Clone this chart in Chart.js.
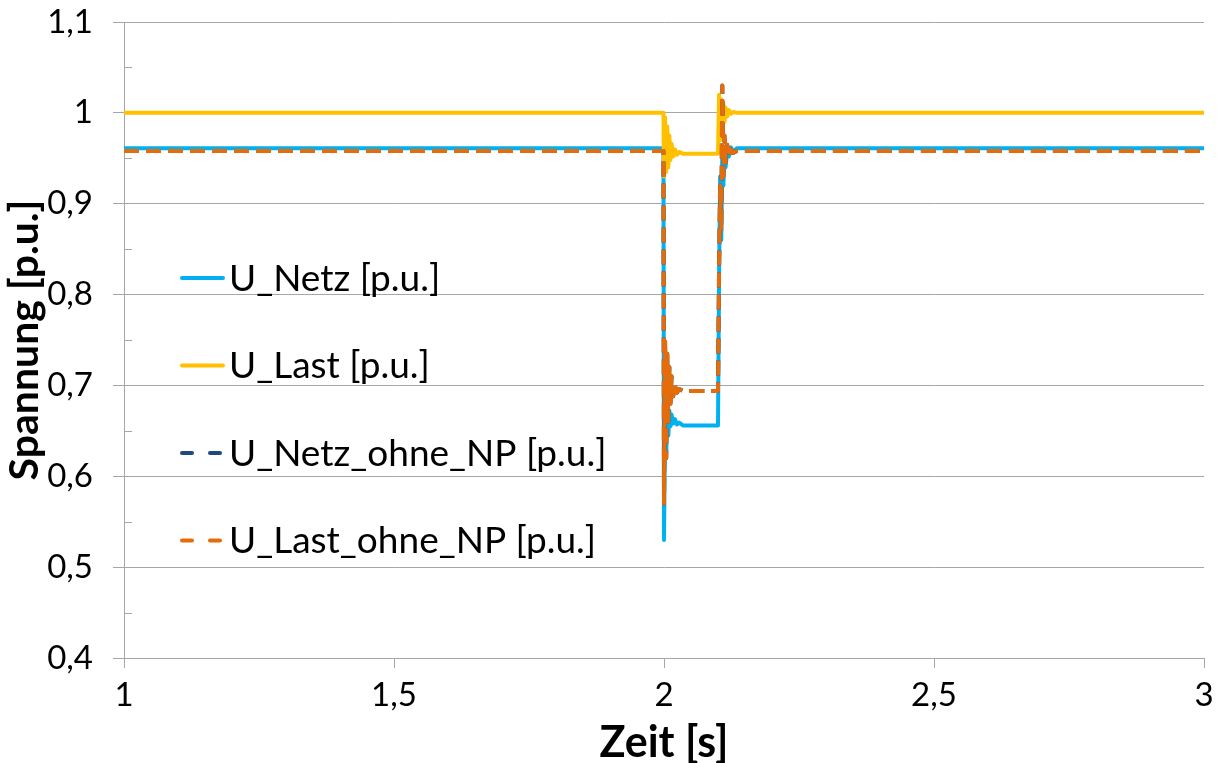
<!DOCTYPE html>
<html>
<head>
<meta charset="utf-8">
<script src="https://cdn.jsdelivr.net/npm/chart.js@4.4.1/dist/chart.umd.min.js"></script>
<style>
  html, body { margin: 0; padding: 0; background: #fff; }
  #wrap { width: 1218px; height: 763px; position: relative; }
</style>
</head>
<body>
<div id="wrap"><canvas id="spannungChart"></canvas></div>
<script>
// Zeitachse [s]
const zeit = [1.0, 1.999, 2.0, 2.002, 2.004, 2.006, 2.008, 2.010, 2.012, 2.014, 2.017, 2.020, 2.024, 2.028, 2.035, 2.045,
              2.060, 2.099, 2.100, 2.102, 2.104, 2.106, 2.108, 2.110, 2.112, 2.114, 2.117, 2.120, 2.124, 2.128, 2.135,
              2.150, 2.200, 3.0];

const uNetz = [0.961, 0.961, 0.530, 0.660, 0.620, 0.675, 0.645, 0.672, 0.655, 0.668, 0.658, 0.663, 0.657, 0.659, 0.656, 0.656,
               0.656, 0.656, 0.656, 0.820, 0.930, 0.860, 0.955, 0.920, 0.960, 0.940, 0.958, 0.952, 0.962, 0.957, 0.961,
               0.961, 0.961, 0.961];

const uLast = [1.000, 1.000, 0.930, 0.995, 0.935, 0.985, 0.940, 0.975, 0.948, 0.966, 0.952, 0.960, 0.954, 0.957, 0.955, 0.955,
               0.955, 0.955, 0.955, 1.020, 0.970, 1.015, 0.980, 1.010, 0.990, 1.006, 0.996, 1.003, 0.999, 1.001, 1.000,
               1.000, 1.000, 1.000];

const uNetzOhneNP = [0.958, 0.958, 0.570, 0.750, 0.620, 0.735, 0.660, 0.720, 0.680, 0.710, 0.688, 0.700, 0.692, 0.696, 0.694, 0.694,
                     0.694, 0.694, 0.694, 0.830, 0.920, 0.870, 1.030, 0.930, 0.975, 0.945, 0.965, 0.952, 0.960, 0.956, 0.958,
                     0.958, 0.958, 0.958];

const uLastOhneNP = [0.958, 0.958, 0.570, 0.750, 0.620, 0.735, 0.660, 0.720, 0.680, 0.710, 0.688, 0.700, 0.692, 0.696, 0.694, 0.694,
                     0.694, 0.694, 0.694, 0.830, 0.920, 0.870, 1.030, 0.930, 0.975, 0.945, 0.965, 0.952, 0.960, 0.956, 0.958,
                     0.958, 0.958, 0.958];

const serienNamen = ['U_Netz [p.u.]', 'U_Last [p.u.]', 'U_Netz_ohne_NP [p.u.]', 'U_Last_ohne_NP [p.u.]'];
const yTicks = [0.4, 0.5, 0.6, 0.7, 0.8, 0.9, 1.0, 1.1];
const xTicks = [1, 1.5, 2, 2.5, 3];

const FONT = 'Lato';
const GRID = '#A6A6A6';

function punkte(werte) {
  return zeit.map((t, i) => ({ x: t, y: werte[i] }));
}
function komma(v) {
  return String(Math.round(v * 10) / 10).replace('.', ',');
}

// legend inside the plot area, one entry per row
const legendeImPlot = {
  id: 'legendeImPlot',
  afterDatasetsDraw(chart) {
    const { ctx, chartArea } = chart;
    ctx.save();
    ctx.font = '37px ' + FONT;
    ctx.textBaseline = 'middle';
    ctx.fillStyle = '#000';
    chart.data.datasets.forEach((ds, i) => {
      const y = chartArea.top + 256 + i * 87.5;
      const x0 = chartArea.left + 58;
      ctx.beginPath();
      ctx.lineWidth = 4;
      ctx.strokeStyle = ds.borderColor;
      ctx.lineCap = 'round';
      ctx.setLineDash(ds.borderDash && ds.borderDash.length ? [10, 18] : []);
      ctx.moveTo(x0, y);
      ctx.lineTo(x0 + 41, y);
      ctx.stroke();
      ctx.setLineDash([]);
      ctx.fillText(ds.label, x0 + 47, y + 1);
    });
    ctx.restore();
  }
};

// small inner minor ticks on the y axis
const minorTicks = {
  id: 'minorTicks',
  afterDraw(chart) {
    const { ctx } = chart;
    const ys = chart.scales.y;
    ctx.save();
    ctx.strokeStyle = GRID;
    ctx.lineWidth = 1;
    for (let i = 0; i < yTicks.length - 1; i++) {
      const py = Math.round(ys.getPixelForValue((yTicks[i] + yTicks[i + 1]) / 2)) + 0.5;
      ctx.beginPath();
      ctx.moveTo(ys.right, py);
      ctx.lineTo(ys.right + 8, py);
      ctx.stroke();
    }
    ctx.restore();
  }
};

const ctx = document.getElementById('spannungChart').getContext('2d');

const config = {
  type: 'line',
  data: {
    datasets: [
      { label: serienNamen[0], data: punkte(uNetz), borderColor: '#00B0F0', order: 4 },
      { label: serienNamen[1], data: punkte(uLast), borderColor: '#FFC000', order: 3 },
      { label: serienNamen[2], data: punkte(uNetzOhneNP), borderColor: '#1F497D', borderDash: [15, 7], order: 2 },
      { label: serienNamen[3], data: punkte(uLastOhneNP), borderColor: '#E46C0A', borderDash: [15, 7], order: 1 }
    ]
  },
  options: {
    responsive: true,
    maintainAspectRatio: false,
    animation: false,
    layout: { padding: { top: 22, right: 14, left: 0, bottom: 0 } },
    elements: {
      point: { radius: 0 },
      line: { borderWidth: 4, tension: 0, fill: false, borderJoinStyle: 'round' }
    },
    plugins: {
      legend: { display: false },
      tooltip: { enabled: false }
    },
    scales: {
      x: {
        type: 'linear',
        min: 1, max: 3,
        afterBuildTicks: s => { s.ticks = xTicks.map(v => ({ value: v })); },
        afterFit: s => { s.height = 105; s.paddingLeft = 0; s.paddingRight = 0; },
        grid: { drawOnChartArea: false, drawTicks: true, tickLength: 10, color: GRID },
        border: { color: GRID, width: 1 },
        ticks: {
          font: { family: FONT, size: 33 }, color: '#000', padding: 8,
          maxRotation: 0, callback: v => komma(v)
        },
        title: {
          display: true, text: 'Zeit [s]', color: '#000',
          font: { family: FONT, size: 43, weight: 'bold' }, padding: { top: 0, bottom: -6 }
        }
      },
      y: {
        type: 'linear',
        min: 0.4, max: 1.1,
        afterBuildTicks: s => { s.ticks = yTicks.map(v => ({ value: v })); },
        afterFit: s => { s.width = 124; s.paddingTop = 0; s.paddingBottom = 0; },
        grid: { color: GRID, lineWidth: 1, drawTicks: true, tickLength: 11 },
        border: { color: GRID, width: 1 },
        ticks: {
          font: { family: FONT, size: 33 }, color: '#000', padding: 20,
          callback: v => komma(v)
        },
        title: {
          display: true, text: 'Spannung [p.u.]', color: '#000',
          font: { family: FONT, size: 41, weight: 'bold' }, padding: { top: 0, bottom: 0 }
        }
      }
    }
  },
  plugins: [legendeImPlot, minorTicks]
};

const spannungChart = new Chart(ctx, config);
</script>
</body>
</html>
